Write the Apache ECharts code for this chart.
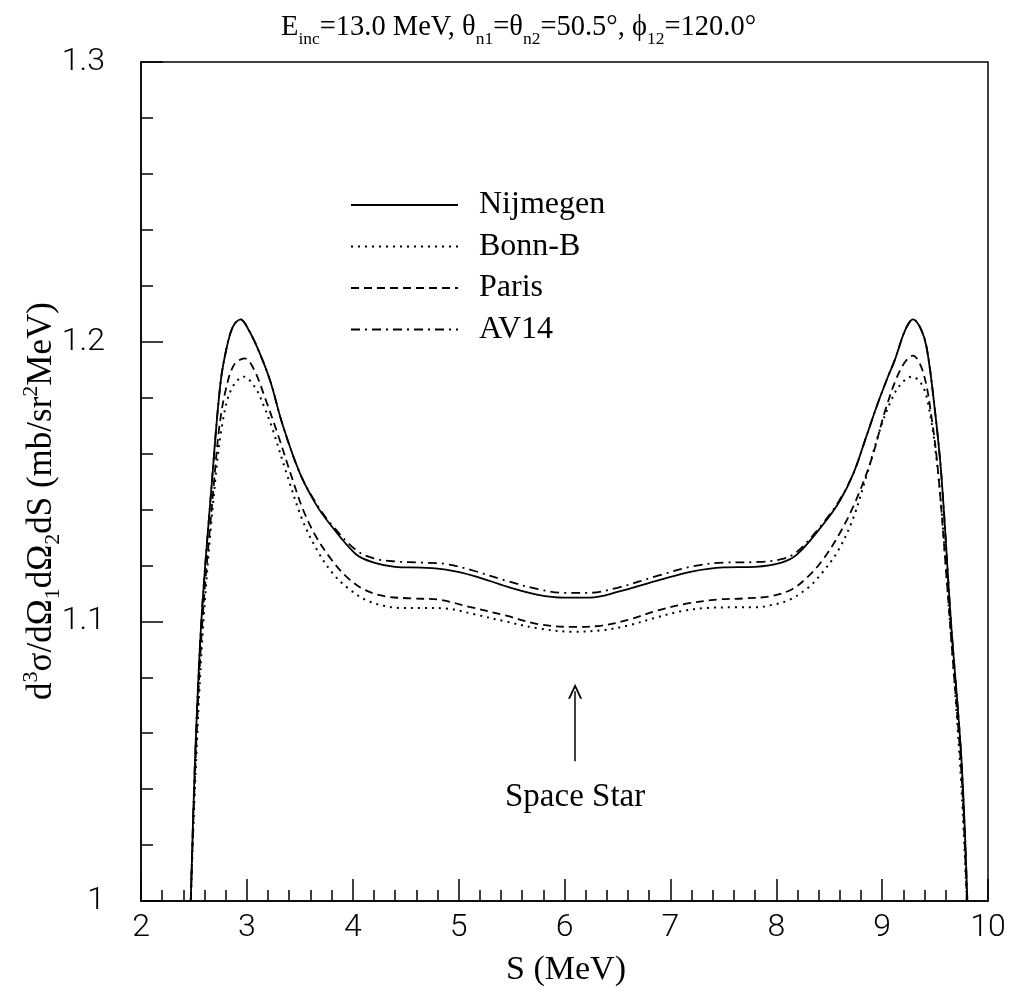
<!DOCTYPE html>
<html>
<head>
<meta charset="utf-8">
<script src="https://cdn.jsdelivr.net/npm/echarts@6/dist/echarts.min.js"></script>
<style>
  html, body { margin: 0; padding: 0; background: #fff; }
  #chart { width: 1011px; height: 995px; }
</style>
</head>
<body>
<div id="chart"></div>
<script>
// Cross sections d3σ/dΩ1dΩ2dS versus arc length S, one list of [S, value] per potential
const nijmegen = [
  [2.47, 1.000], [2.51, 1.050], [2.57, 1.100], [2.67, 1.150], [2.75, 1.185],
  [2.81, 1.198], [2.87, 1.2055], [2.94, 1.208], [3.02, 1.204], [3.12, 1.196],
  [3.22, 1.186], [3.34, 1.170], [3.50, 1.153], [3.65, 1.142], [3.78, 1.135],
  [4.03, 1.124], [4.20, 1.121], [4.40, 1.1195], [4.65, 1.1192], [4.88, 1.1185],
  [5.15, 1.1162], [5.45, 1.1125], [5.75, 1.1095], [6.00, 1.1085], [6.24, 1.1085],
  [6.50, 1.1105], [6.90, 1.1148], [7.20, 1.1178], [7.50, 1.1193], [7.80, 1.1195],
  [8.05, 1.121], [8.20, 1.124], [8.45, 1.135], [8.60, 1.143], [8.73, 1.153],
  [8.85, 1.166], [8.95, 1.177], [9.05, 1.187], [9.12, 1.1935], [9.20, 1.2025],
  [9.25, 1.2065], [9.29, 1.208], [9.36, 1.205], [9.42, 1.198], [9.50, 1.175],
  [9.56, 1.152], [9.65, 1.100], [9.75, 1.050], [9.805, 1.000]
];
const bonnB = [
  [2.47, 1.000], [2.52, 1.050], [2.59, 1.100], [2.70, 1.150], [2.77, 1.171],
  [2.85, 1.1827], [2.97, 1.1875], [3.08, 1.1835], [3.16, 1.177], [3.24, 1.169],
  [3.37, 1.1535], [3.525, 1.1362], [3.67, 1.125], [3.81, 1.1172], [3.95, 1.112],
  [4.125, 1.1076], [4.30, 1.1055], [4.44, 1.1048], [4.65, 1.1048], [4.88, 1.1046],
  [5.15, 1.1025], [5.45, 1.0999], [5.75, 1.0975], [6.08, 1.0963], [6.35, 1.0968],
  [6.60, 1.0985], [6.87, 1.1014], [7.10, 1.1036], [7.35, 1.1048], [7.60, 1.105],
  [7.80, 1.105], [7.95, 1.1058], [8.12, 1.1076], [8.30, 1.112], [8.43, 1.1172],
  [8.58, 1.125], [8.72, 1.1362], [8.85, 1.1517], [8.98, 1.1686], [9.08, 1.1785],
  [9.17, 1.1845], [9.28, 1.1875], [9.36, 1.1855], [9.42, 1.1803], [9.50, 1.1624],
  [9.56, 1.140], [9.62, 1.110], [9.68, 1.080], [9.75, 1.040], [9.80, 1.000]
];
const paris = [
  [2.47, 1.000], [2.515, 1.050], [2.58, 1.100], [2.69, 1.150], [2.74, 1.1695],
  [2.80, 1.1827], [2.88, 1.1918], [2.98, 1.194], [3.07, 1.1898], [3.18, 1.179],
  [3.30, 1.166], [3.42, 1.152], [3.53, 1.140], [3.65, 1.1305], [3.80, 1.122],
  [3.94, 1.116], [4.10, 1.1115], [4.30, 1.109], [4.55, 1.1082], [4.82, 1.1077],
  [5.10, 1.1052], [5.45, 1.102], [5.75, 1.099], [6.08, 1.098], [6.35, 1.0985],
  [6.60, 1.1005], [6.87, 1.1038], [7.15, 1.1063], [7.45, 1.1078], [7.70, 1.1082],
  [7.95, 1.109], [8.15, 1.1115], [8.30, 1.116], [8.44, 1.122], [8.60, 1.1315],
  [8.75, 1.143], [8.90, 1.158], [9.04, 1.1767], [9.18, 1.1905], [9.29, 1.195],
  [9.39, 1.1887], [9.47, 1.172], [9.53, 1.153], [9.60, 1.120], [9.66, 1.090],
  [9.75, 1.045], [9.80, 1.000]
];
const av14 = [
  [2.47, 1.000], [2.51, 1.050], [2.57, 1.100], [2.67, 1.150], [2.75, 1.185],
  [2.81, 1.198], [2.87, 1.2055], [2.94, 1.208], [3.02, 1.204], [3.12, 1.196],
  [3.22, 1.186], [3.34, 1.170], [3.50, 1.153], [3.65, 1.1425], [3.78, 1.1355],
  [4.03, 1.1255], [4.20, 1.1225], [4.40, 1.1214], [4.65, 1.121], [4.88, 1.1205],
  [5.15, 1.118], [5.45, 1.1145], [5.75, 1.1115], [6.00, 1.1102], [6.24, 1.1102],
  [6.50, 1.112], [6.90, 1.1165], [7.20, 1.1196], [7.50, 1.121], [7.80, 1.1212],
  [8.05, 1.1222], [8.20, 1.125], [8.45, 1.1355], [8.60, 1.1435], [8.73, 1.153],
  [8.85, 1.166], [8.95, 1.177], [9.05, 1.187], [9.12, 1.1935], [9.20, 1.2025],
  [9.25, 1.2065], [9.29, 1.208], [9.36, 1.205], [9.42, 1.198], [9.50, 1.175],
  [9.56, 1.152], [9.65, 1.100], [9.75, 1.050], [9.805, 1.000]
];

const seriesNames = ['Nijmegen', 'Bonn-B', 'Paris', 'AV14'];
const xTicks = [2, 3, 4, 5, 6, 7, 8, 9, 10];
const yTicks = [1, 1.1, 1.2, 1.3];

// Space-star configuration position and the arrow that points at it
const spaceStarS = 6.10;
const arrowFrom = 1.050;
const arrowTo = 1.075;

const SERIF = '"Liberation Serif", "Times New Roman", serif';
const SANS = 'Roboto, "Liberation Sans", sans-serif';

const chart = echarts.init(document.getElementById('chart'), null, { renderer: 'canvas' });

function line(name, data, type, width, z) {
  return {
    name: name,
    type: 'line',
    data: data,
    smooth: 0.35,
    symbol: 'none',
    showSymbol: false,
    silent: true,
    z: z,
    lineStyle: { color: '#000', width: width, type: type },
    itemStyle: { color: '#000' }
  };
}

const sNij = line(seriesNames[0], nijmegen, 'solid', 1.8, 5);
sNij.markLine = {
  silent: true,
  symbol: ['none', 'path://M0,10 L5,0 L10,10 L8.6,10 L5,2.8 L1.4,10 Z'],
  symbolSize: [14, 15],
  lineStyle: { color: '#000', width: 1.5, type: 'solid' },
  label: {
    show: true,
    position: 'start',
    formatter: 'Space Star',
    color: '#000',
    fontFamily: SERIF,
    fontSize: 33,
    distance: 20
  },
  data: [[{ coord: [spaceStarS, arrowFrom] }, { coord: [spaceStarS, arrowTo] }]]
};

const option = {
  backgroundColor: '#fff',
  animation: false,
  title: {
    text: '{m|E}{s|inc}{m|=13.0 MeV, θ}{s|n1}{m|=θ}{s|n2}{m|=50.5°, ϕ}{s|12}{m|=120.0°}',
    left: 281,
    top: 8,
    padding: 0,
    textStyle: {
      fontFamily: SERIF,
      fontSize: 28.5,
      fontWeight: 'normal',
      color: '#000',
      rich: {
        m: { fontFamily: SERIF, fontSize: 28.5, color: '#000', lineHeight: 40, verticalAlign: 'middle' },
        s: { fontFamily: SERIF, fontSize: 17.5, color: '#000', verticalAlign: 'bottom', lineHeight: 12 }
      }
    }
  },
  legend: {
    orient: 'vertical',
    left: 350,
    top: 189,
    padding: 0,
    itemWidth: 107,
    itemHeight: 14,
    itemGap: 9.5,
    selectedMode: false,
    data: seriesNames,
    itemStyle: { opacity: 0 },
    textStyle: {
      fontFamily: SERIF,
      fontSize: 32,
      lineHeight: 32,
      color: '#000',
      padding: [0, 0, 0, 16]
    }
  },
  grid: {
    left: 141,
    right: 23,
    top: 62,
    bottom: 94,
    show: true,
    borderColor: '#000',
    borderWidth: 1.5,
    backgroundColor: 'transparent'
  },
  xAxis: {
    type: 'value',
    min: xTicks[0],
    max: xTicks[xTicks.length - 1],
    interval: 1,
    axisLine: { show: true, lineStyle: { color: '#000', width: 1.5 } },
    axisTick: { show: true, inside: true, length: 22, lineStyle: { color: '#000', width: 1.5 } },
    minorTick: { show: true, splitNumber: 5, length: 11, lineStyle: { color: '#000', width: 1.5 } },
    splitLine: { show: false },
    axisLabel: {
      color: '#000',
      fontFamily: SANS,
      fontWeight: 300,
      fontSize: 32,
      margin: 11
    }
  },
  yAxis: {
    type: 'value',
    min: yTicks[0],
    max: yTicks[yTicks.length - 1],
    interval: 0.1,
    axisLine: { show: true, lineStyle: { color: '#000', width: 1.5 } },
    axisTick: { show: true, inside: true, length: 22, lineStyle: { color: '#000', width: 1.5 } },
    minorTick: { show: true, splitNumber: 5, length: 12, lineStyle: { color: '#000', width: 1.5 } },
    splitLine: { show: false },
    axisLabel: {
      color: '#000',
      fontFamily: SANS,
      fontWeight: 300,
      fontSize: 32,
      margin: 36,
      formatter: function (v) {
        const t = yTicks.find(function (k) { return Math.abs(k - v) < 1e-9; });
        return t === undefined ? '' : String(t);
      }
    }
  },
  graphic: [
    {
      type: 'text',
      x: 42,
      y: 501,
      rotation: Math.PI / 2,
      silent: true,
      style: {
        text: '{m|d}{sup|3}{m|σ/dΩ}{sub|1}{m|dΩ}{sub|2}{m|dS (mb/sr}{sup|2}{m|MeV)}',
        fill: '#000',
        fontFamily: SERIF,
        fontSize: 35,
        align: 'center',
        verticalAlign: 'middle',
        rich: {
          m: { fontFamily: SERIF, fontSize: 35, fill: '#000', lineHeight: 44, verticalAlign: 'middle' },
          sup: { fontFamily: SERIF, fontSize: 22, fill: '#000', verticalAlign: 'top', lineHeight: 16 },
          sub: { fontFamily: SERIF, fontSize: 22, fill: '#000', verticalAlign: 'bottom', lineHeight: 12 }
        }
      }
    },
    {
      type: 'text',
      x: 566,
      y: 970,
      silent: true,
      style: {
        text: 'S (MeV)',
        fill: '#000',
        fontFamily: SERIF,
        fontSize: 34,
        align: 'center',
        verticalAlign: 'middle'
      }
    }
  ],
  series: [
    sNij,
    line(seriesNames[1], bonnB, [2, 5], 2, 3),
    line(seriesNames[2], paris, [8, 5], 1.8, 3),
    line(seriesNames[3], av14, [9, 5, 2, 5], 1.8, 4)
  ]
};

chart.setOption(option);
</script>
</body>
</html>
